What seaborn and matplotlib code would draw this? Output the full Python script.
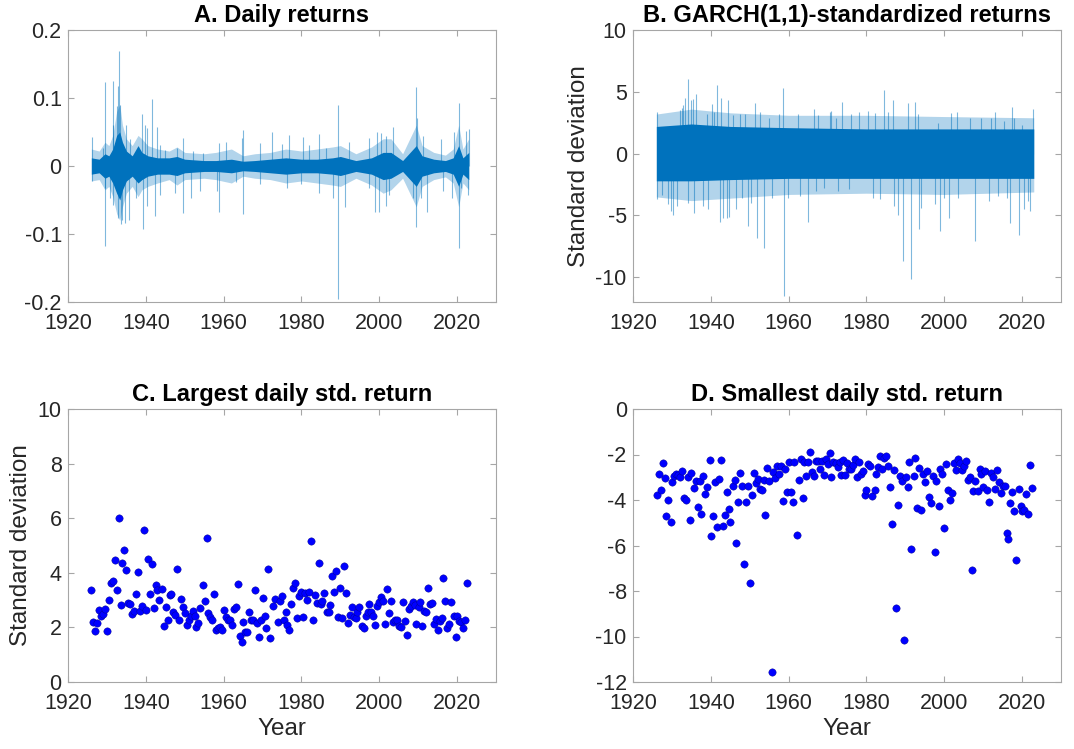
import numpy as np
import pandas as pd
import matplotlib
matplotlib.use("Agg")
import matplotlib.pyplot as plt
import seaborn as sns

# ==========================================
# DATA
# ==========================================

# panel A - daily returns: band edges at node years + isolated spikes
a_years = [1926.0, 1928.0, 1929.5, 1930.5, 1931.5, 1932.5, 1933.3, 1934.0, 1935.0,
           1936.5, 1938.0, 1939.0, 1940.5, 1943.0, 1946.0, 1948.0, 1950.0, 1955.0,
           1958.0, 1962.0, 1965.0, 1968.0, 1972.0, 1976.0, 1980.0, 1984.0, 1988.0,
           1990.0, 1994.0, 1998.0, 2001.0, 2003.0, 2006.0, 2009.5, 2011.0, 2014.0,
           2017.0, 2019.0, 2020.4, 2021.5, 2023.0]
a_inner_up = [0.012, 0.010, 0.018, 0.015, 0.025, 0.045, 0.050, 0.035, 0.022,
              0.015, 0.030, 0.020, 0.015, 0.012, 0.012, 0.014, 0.010, 0.008,
              0.008, 0.010, 0.007, 0.008, 0.010, 0.012, 0.010, 0.010, 0.012,
              0.014, 0.008, 0.012, 0.020, 0.020, 0.008, 0.030, 0.015, 0.010,
              0.008, 0.012, 0.030, 0.012, 0.020]
a_inner_lo = [-0.012, -0.010, -0.018, -0.015, -0.025, -0.040, -0.050, -0.035, -0.022,
              -0.015, -0.025, -0.020, -0.015, -0.012, -0.012, -0.014, -0.010, -0.008,
              -0.008, -0.010, -0.007, -0.008, -0.010, -0.012, -0.010, -0.010, -0.012,
              -0.014, -0.008, -0.012, -0.020, -0.018, -0.008, -0.030, -0.015, -0.010,
              -0.008, -0.012, -0.030, -0.012, -0.020]
a_outer_up = [0.025, 0.022, 0.035, 0.030, 0.045, 0.080, 0.090, 0.060, 0.040,
              0.030, 0.045, 0.040, 0.030, 0.025, 0.022, 0.028, 0.020, 0.018,
              0.020, 0.025, 0.015, 0.018, 0.020, 0.025, 0.022, 0.025, 0.028,
              0.030, 0.018, 0.028, 0.040, 0.040, 0.018, 0.060, 0.030, 0.020,
              0.016, 0.025, 0.060, 0.025, 0.040]
a_outer_lo = [-0.022, -0.020, -0.035, -0.030, -0.045, -0.070, -0.080, -0.060, -0.040,
              -0.030, -0.045, -0.035, -0.030, -0.025, -0.020, -0.028, -0.020, -0.018,
              -0.020, -0.025, -0.015, -0.018, -0.020, -0.025, -0.022, -0.025, -0.028,
              -0.030, -0.018, -0.028, -0.040, -0.035, -0.018, -0.060, -0.030, -0.020,
              -0.016, -0.025, -0.060, -0.025, -0.035]
a_spike_year = [1926.1, 1926.1, 1929.4, 1929.4, 1931.5, 1932.9, 1933.2, 1933.5, 1934.0,
                1939.0, 1939.2, 1941.5, 1942.3, 1942.9, 1949.6, 1949.6, 1958.8, 1958.8,
                1965.1, 1965.1, 1972.5, 1976.7, 1980.5, 1984.4, 1989.3, 1989.3, 1999.3,
                1999.0, 2000.0, 2001.8, 2003.5, 2009.5, 2009.5, 2009.8, 2012.2, 2019.1,
                2020.4, 2020.4, 2023.0,
                1929.0, 1931.6, 1932.7, 1933.3, 1935.0, 1935.9, 1939.7, 1940.3, 1943.6,
                1944.9, 1947.9, 1952.2, 1954.7, 1960.7, 1964.6, 1969.3,
                1929.4, 1930.7, 1931.6, 1932.9, 1934.6, 1935.7, 1937.6, 1940.2, 1943.6,
                1947.4, 1951.7, 1953.9, 1958.2, 1963.3, 1969.3,
                1975.1, 1982.0, 1986.3, 1992.3, 1997.4, 2000.4, 2001.7, 2011.2, 2015.9,
                2022.3,
                1976.4, 1979.9, 1984.6, 1988.0, 1991.3, 1997.4, 2002.6, 2008.6, 2010.7,
                2016.3, 2018.7, 2021.0, 2022.8]
a_spike_val = [0.042, -0.022, 0.124, -0.117, 0.125, 0.118, 0.169, -0.085, -0.080,
               0.076, -0.092, 0.099, -0.073, 0.058, 0.041, -0.069, 0.034, -0.067,
               0.053, -0.071, 0.050, 0.046, 0.042, 0.047, 0.089, -0.195, 0.050,
               -0.068, -0.068, -0.059, 0.057, 0.116, -0.090, 0.070, -0.067, 0.050,
               0.093, -0.120, 0.055,
               0.026, 0.061, 0.088, 0.090, 0.061, 0.039, 0.061, 0.056, 0.031,
               0.024, 0.026, 0.022, 0.019, 0.036, 0.041, 0.034,
               -0.032, -0.047, -0.057, -0.076, -0.084, -0.079, -0.047, -0.059, -0.042,
               -0.040, -0.047, -0.037, -0.037, -0.023, -0.027,
               0.032, 0.031, 0.026, 0.035, 0.041, 0.049, 0.044, 0.044, 0.039,
               0.051,
               -0.032, -0.027, -0.040, -0.047, -0.061, -0.032, -0.042, -0.047, -0.047,
               -0.037, -0.047, -0.032, -0.042]

# panel B - GARCH standardized returns
b_years = [1926.0, 1935.0, 1945.0, 1960.0, 1980.0, 2000.0, 2023.0]
b_inner_up = [2.2, 2.4, 2.2, 2.1, 2.0, 2.0, 2.0]
b_inner_lo = [-2.2, -2.2, -2.1, -2.0, -2.0, -2.0, -2.0]
b_outer_up = [3.2, 3.6, 3.3, 3.1, 3.1, 3.0, 2.9]
b_outer_lo = [-3.5, -3.8, -3.6, -3.3, -3.2, -3.3, -3.1]
b_spike_year = [1926.2, 1926.2, 1929.7, 1930.4, 1932.5, 1934.2, 1935.3, 1936.2, 1935.6,
                1940.3, 1941.7, 1942.4, 1944.2, 1944.3, 1949.5, 1951.4, 1951.8, 1953.6,
                1958.5, 1958.8, 1965.0, 1966.6, 1970.7, 1973.8, 1980.5, 1984.4, 1986.7,
                1989.3, 1991.4, 1988.2, 1992.5, 1993.4, 1999.0, 2001.1, 2003.3, 2008.0,
                2013.1, 2017.0, 2017.3, 2019.1, 2022.0, 2022.8,
                1932.1, 1932.9, 1933.3, 1935.0, 1939.1, 1940.9, 1942.7, 1945.7, 1947.4,
                1948.9, 1952.6, 1954.9, 1957.4, 1962.4, 1967.5, 1970.9, 1972.2,
                1927.4, 1928.9, 1931.2, 1934.2, 1938.0, 1939.3, 1943.2, 1944.7, 1946.6,
                1947.9, 1950.4, 1955.6, 1959.8, 1962.8, 1967.1, 1969.2, 1972.6, 1975.6,
                1976.1, 1978.2, 1982.1, 1985.5, 1990.6, 1993.3, 1998.3, 2001.7, 2006.7,
                2009.4, 2012.0, 2015.4, 2017.9, 2020.1,
                1981.6, 1983.6, 1987.2, 1994.0, 1997.6, 2000.0, 2003.4, 2011.5, 2013.7,
                2016.0, 2020.5, 2021.4]
b_spike_val = [3.35, -3.7, -4.6, -5.0, 3.7, 6.0, 4.4, 4.8, -4.8,
               4.0, 5.55, -5.5, -5.2, 4.3, -5.85, 4.1, -6.8, -7.6,
               5.3, -11.55, -5.5, 3.6, 3.35, 4.15, 3.45, 5.15, 4.35,
               -8.7, -10.1, -5.0, 4.2, -6.1, -6.25, -5.2, 3.35, -7.05,
               3.4, -5.65, 3.8, -6.55, -4.6, 3.6,
               3.5, 3.9, 4.5, 4.3, 3.2, 3.35, 4.5, 3.1, 3.2,
               3.2, 3.35, 2.9, 3.2, 3.2, 3.1, 3.45, 2.9,
               -3.35, -4.1, -4.2, -4.0, -4.25, -4.5, -5.2, -5.1, -4.5,
               -3.6, -4.0, -3.6, -3.6, -3.45, -3.0, -2.8, -3.0, -2.9,
               3.2, 3.4, 3.3, 3.35, 4.1, 3.2, 2.5, 3.3, 2.9,
               2.9, 2.9, 2.6, 2.9, 2.35,
               -3.55, -3.7, -4.25, -4.4, -4.1, -3.6, -3.55, -3.85, -3.45,
               -3.55, -4.5, -3.85]

# panel C - largest daily standardized return per half-year
c_year = [1926.0, 1926.4, 1927.0, 1927.5, 1928.0, 1928.6, 1929.0, 1929.5, 1930.0, 1930.5,
          1931.0, 1931.5, 1932.1, 1932.5, 1933.0, 1933.5, 1934.0, 1934.5, 1935.0, 1935.5,
          1936.0, 1936.5, 1937.0, 1937.5, 1938.0, 1938.5, 1939.0, 1939.6, 1940.1, 1940.5,
          1941.0, 1941.5, 1942.0, 1942.5, 1943.0, 1943.5, 1944.1, 1944.6, 1945.1, 1945.6,
          1946.1, 1946.6, 1947.1, 1947.6, 1948.0, 1948.5, 1949.1, 1949.6, 1950.1, 1950.6,
          1951.0, 1951.5, 1952.0, 1952.6, 1953.0, 1953.5, 1954.0, 1954.6, 1955.1, 1955.6,
          1956.1, 1956.5, 1957.0, 1957.5, 1958.0, 1958.5, 1959.0, 1959.5, 1960.0, 1960.6,
          1961.1, 1961.6, 1962.1, 1962.6, 1963.1, 1963.6, 1964.2, 1964.6, 1965.0, 1965.5,
          1966.0, 1966.6, 1967.1, 1967.6, 1968.1, 1968.6, 1969.1, 1969.6, 1970.1, 1970.6,
          1971.0, 1971.5, 1972.0, 1972.6, 1973.2, 1973.9, 1974.4, 1975.0, 1975.5, 1975.9,
          1976.4, 1976.9, 1977.4, 1977.9, 1978.4, 1978.9, 1979.4, 1979.9, 1980.5, 1980.9,
          1981.4, 1981.9, 1982.4, 1982.9, 1983.4, 1983.9, 1984.4, 1984.9, 1985.4, 1985.9,
          1986.5, 1987.0, 1987.4, 1987.9, 1988.4, 1988.9, 1989.5, 1990.0, 1990.5, 1991.0,
          1991.5, 1992.0, 1992.5, 1993.0, 1993.4, 1993.9, 1994.4, 1994.9, 1995.5, 1996.0,
          1996.5, 1997.0, 1997.4, 1997.9, 1998.5, 1999.0, 1999.5, 2000.0, 2000.5, 2001.0,
          2001.6, 2002.0, 2002.5, 2003.0, 2003.5, 2004.0, 2004.6, 2005.1, 2005.6, 2006.0,
          2006.5, 2007.0, 2007.6, 2008.1, 2008.6, 2009.1, 2009.5, 2010.1, 2010.5, 2011.0,
          2011.5, 2012.0, 2012.5, 2013.1, 2013.6, 2014.1, 2014.5, 2015.0, 2015.5, 2016.1,
          2016.5, 2017.0, 2017.5, 2018.0, 2018.5, 2019.1, 2019.6, 2020.1, 2020.6, 2021.1,
          2021.5, 2022.1, 2022.6]
c_val = [3.36, 2.20, 1.86, 2.16, 2.65, 2.43, 2.49, 2.69, 1.87, 3.02,
         3.63, 3.70, 4.46, 3.36, 6.01, 2.82, 4.37, 4.82, 4.09, 2.89,
         2.86, 2.49, 2.61, 3.22, 4.03, 2.61, 2.77, 5.57, 2.65, 4.51,
         3.24, 4.31, 2.70, 3.57, 3.36, 3.02, 3.41, 2.06, 2.75, 2.28,
         3.17, 3.21, 2.55, 2.47, 4.13, 2.28, 3.05, 2.74, 2.53, 2.08,
         2.28, 2.41, 2.60, 2.43, 2.03, 2.16, 2.72, 3.55, 2.98, 5.26,
         2.53, 2.37, 2.26, 3.21, 1.92, 1.99, 2.00, 1.89, 2.64, 2.38,
         2.28, 2.28, 2.10, 2.69, 2.75, 3.59, 1.67, 1.45, 2.21, 1.84,
         1.84, 2.56, 2.26, 2.26, 3.38, 2.16, 1.64, 2.28, 3.09, 2.43,
         1.99, 4.15, 1.60, 2.80, 3.04, 2.19, 2.98, 3.14, 2.26, 2.55,
         2.10, 1.89, 2.84, 3.43, 3.61, 2.34, 3.14, 3.28, 2.38, 3.26,
         3.00, 3.30, 5.16, 2.27, 3.19, 2.88, 4.36, 2.84, 2.98, 3.27,
         2.55, 2.58, 2.81, 3.90, 3.30, 4.07, 2.39, 3.44, 2.33, 4.24,
         3.26, 2.15, 2.47, 2.74, 2.39, 2.34, 2.55, 2.76, 2.06, 1.97,
         2.43, 2.55, 2.87, 2.58, 2.43, 2.09, 2.80, 2.92, 3.11, 2.98,
         2.14, 3.41, 2.52, 2.97, 2.20, 2.28, 2.28, 2.06, 2.01, 2.93,
         2.23, 1.72, 2.67, 2.80, 2.92, 2.81, 2.14, 2.75, 2.94, 2.06,
         2.60, 2.55, 3.44, 2.84, 2.88, 2.11, 2.31, 1.89, 2.22, 2.33,
         3.82, 2.97, 1.98, 2.14, 2.93, 2.41, 1.64, 2.41, 2.23, 2.20,
         1.97, 2.27, 3.61]

# panel D - smallest daily standardized return per half-year
d_year = [1926.1, 1926.7, 1927.2, 1927.6, 1928.1, 1928.6, 1929.1, 1929.7, 1930.1, 1930.6,
          1931.1, 1931.6, 1932.1, 1932.6, 1933.1, 1933.6, 1934.1, 1934.6, 1935.0, 1935.6,
          1936.1, 1936.6, 1937.1, 1937.6, 1938.1, 1938.6, 1939.1, 1939.7, 1940.1, 1940.6,
          1941.1, 1941.6, 1942.1, 1942.6, 1943.1, 1943.6, 1944.1, 1944.6, 1945.0, 1945.6,
          1946.1, 1946.6, 1947.1, 1947.6, 1948.1, 1948.5, 1949.1, 1949.6, 1950.1, 1950.6,
          1951.1, 1951.6, 1952.1, 1952.6, 1953.1, 1953.6, 1954.0, 1954.5, 1955.0, 1955.6,
          1956.1, 1956.6, 1957.0, 1957.5, 1958.0, 1958.5, 1959.1, 1959.5, 1960.0, 1960.5,
          1961.0, 1961.5, 1962.1, 1962.6, 1963.1, 1963.6, 1964.0, 1964.5, 1965.0, 1965.6,
          1966.1, 1966.6, 1967.1, 1967.6, 1968.1, 1968.5, 1969.1, 1969.6, 1970.1, 1970.6,
          1971.0, 1971.5, 1972.1, 1972.6, 1973.1, 1973.4, 1974.1, 1974.4, 1975.0, 1975.6,
          1976.1, 1976.6, 1977.0, 1977.5, 1978.0, 1978.6, 1979.1, 1979.5, 1980.0, 1980.5,
          1981.0, 1981.5, 1982.1, 1982.5, 1983.0, 1983.5, 1984.0, 1984.5, 1985.1, 1985.6,
          1986.1, 1986.5, 1987.0, 1987.5, 1988.0, 1988.6, 1989.1, 1989.6, 1990.1, 1990.6,
          1991.0, 1991.5, 1992.1, 1992.6, 1993.1, 1993.6, 1994.1, 1994.5, 1995.0, 1995.6,
          1996.1, 1996.6, 1997.1, 1997.5, 1998.0, 1998.6, 1999.0, 1999.5, 2000.0, 2000.5,
          2001.0, 2001.5, 2002.1, 2002.6, 2003.1, 2003.5, 2004.0, 2004.5, 2005.1, 2005.6,
          2006.1, 2006.6, 2007.1, 2007.5, 2008.0, 2008.6, 2009.1, 2009.5, 2010.0, 2010.4,
          2010.9, 2011.5, 2012.0, 2012.5, 2013.0, 2013.5, 2014.0, 2014.5, 2015.1, 2015.6,
          2016.0, 2016.5, 2017.0, 2017.5, 2017.9, 2018.5, 2019.1, 2019.6, 2020.1, 2020.5,
          2021.0, 2021.5, 2022.0, 2022.5]
d_val = [-3.78, -2.84, -3.56, -2.37, -3.03, -4.69, -3.99, -4.98, -3.21, -2.96,
         -2.84, -2.89, -2.99, -2.71, -3.91, -4.01, -2.99, -4.86, -2.81, -3.46,
         -3.15, -4.31, -3.18, -4.62, -2.93, -3.74, -3.43, -2.26, -5.57, -4.72,
         -3.21, -5.19, -3.06, -2.26, -5.16, -4.66, -3.63, -4.40, -4.98, -3.40,
         -3.11, -5.90, -4.09, -2.81, -3.37, -6.83, -4.09, -3.40, -7.63, -3.77,
         -2.81, -3.25, -3.08, -3.52, -3.58, -3.14, -4.67, -2.61, -3.16, -11.58,
         -2.77, -3.05, -2.52, -2.84, -2.52, -4.06, -2.62, -3.63, -2.31, -3.63,
         -4.09, -2.33, -5.55, -3.14, -2.20, -3.93, -2.31, -2.96, -2.34, -1.89,
         -2.75, -2.93, -2.27, -2.27, -2.65, -2.27, -2.90, -2.20, -2.40, -1.93,
         -2.97, -2.33, -2.37, -2.56, -2.34, -2.92, -2.23, -2.89, -2.37, -2.64,
         -2.64, -2.46, -2.20, -2.99, -2.34, -2.84, -2.74, -3.78, -3.55, -2.40,
         -2.52, -3.81, -3.58, -2.84, -2.55, -2.08, -2.64, -2.17, -2.08, -2.49,
         -3.44, -5.07, -2.70, -8.76, -4.22, -2.93, -3.16, -10.14, -2.99, -3.43,
         -2.34, -6.17, -2.93, -2.17, -4.37, -2.59, -4.42, -2.84, -3.19, -2.74,
         -3.88, -4.13, -2.93, -6.30, -3.15, -4.25, -2.62, -2.84, -5.24, -2.42,
         -3.55, -3.99, -3.69, -2.37, -2.67, -2.20, -2.37, -2.67, -2.49, -2.30,
         -3.11, -2.99, -7.09, -3.62, -3.16, -3.60, -2.64, -2.84, -3.43, -2.74,
         -3.55, -4.10, -2.81, -2.99, -3.50, -2.67, -3.21, -3.69, -3.40, -3.40,
         -5.45, -5.70, -4.15, -3.63, -4.50, -6.62, -3.52, -4.25, -4.50, -4.45,
         -3.72, -4.63, -2.48, -3.49]

# ==========================================
# STYLE
# ==========================================

sns.set_style("white")
plt.rcParams["font.family"] = ["Liberation Sans", "DejaVu Sans"]
plt.rcParams["axes.unicode_minus"] = False

line_blue = "#0072BD"
spine_gray = "#a6a6a6"
text_gray = "#262626"

fig = plt.figure(figsize=(10.74, 7.49), dpi=100)

W, H = 1074, 749
def box(l, t, r, b):
    return [l / W, 1 - b / H, (r - l) / W, (b - t) / H]

ax_a = fig.add_axes(box(68, 30, 496, 302))
ax_b = fig.add_axes(box(633, 30, 1061, 302))
ax_c = fig.add_axes(box(68, 409, 496, 682))
ax_d = fig.add_axes(box(633, 409, 1061, 682))


def matlab_axes(ax, title, yticks, yticklabels, ylim):
    ax.set_xlim(1920, 2030)
    ax.set_ylim(*ylim)
    ax.set_xticks([1920, 1940, 1960, 1980, 2000, 2020])
    ax.set_xticklabels(["1920", "1940", "1960", "1980", "2000", "2020"])
    ax.set_yticks(yticks)
    ax.set_yticklabels(yticklabels)
    for s in ax.spines.values():
        s.set_visible(True)
        s.set_color(spine_gray)
        s.set_linewidth(0.8)
    ax.tick_params(axis="both", direction="in", length=4, width=0.8,
                   color=spine_gray, labelsize=15.5, labelcolor=text_gray,
                   top=True, right=True, bottom=True, left=True)
    ax.tick_params(axis="x", pad=8)
    ax.tick_params(axis="y", pad=4.5)
    ax.set_title(title, fontsize=17, fontweight="bold", color="black", pad=6)


# ==========================================
# PANEL A
# ==========================================

ax_a.fill_between(a_years, a_outer_lo, a_outer_up, color=line_blue,
                  alpha=0.3, linewidth=0)
ax_a.fill_between(a_years, a_inner_lo, a_inner_up, color=line_blue,
                  alpha=1.0, linewidth=0)
ax_a.vlines(a_spike_year, 0, a_spike_val, color=line_blue, alpha=0.5, linewidth=0.8)
matlab_axes(ax_a, "A. Daily returns",
            [-0.2, -0.1, 0, 0.1, 0.2], ["-0.2", "-0.1", "0", "0.1", "0.2"], (-0.2, 0.2))

# ==========================================
# PANEL B
# ==========================================

ax_b.fill_between(b_years, b_outer_lo, b_outer_up, color=line_blue,
                  alpha=0.3, linewidth=0)
ax_b.fill_between(b_years, b_inner_lo, b_inner_up, color=line_blue,
                  alpha=1.0, linewidth=0)
ax_b.vlines(b_spike_year, 0, b_spike_val, color=line_blue, alpha=0.5, linewidth=0.8)
matlab_axes(ax_b, "B. GARCH(1,1)-standardized returns",
            [-10, -5, 0, 5, 10], ["-10", "-5", "0", "5", "10"], (-12, 10))
ax_b.set_ylabel("Standard deviation", fontsize=17.5, color=text_gray, labelpad=4)

# ==========================================
# PANEL C
# ==========================================

df_c = pd.DataFrame({"Year": c_year, "Value": c_val})
sns.scatterplot(data=df_c, x="Year", y="Value", ax=ax_c, color="#0000FF",
                s=28, edgecolor="#00008b", linewidth=0.3)
matlab_axes(ax_c, "C. Largest daily std. return",
            [0, 2, 4, 6, 8, 10], ["0", "2", "4", "6", "8", "10"], (0, 10))
ax_c.set_ylabel("Standard deviation", fontsize=17.5, color=text_gray, labelpad=4)
ax_c.set_xlabel("Year", fontsize=17.5, color=text_gray, labelpad=3)

# ==========================================
# PANEL D
# ==========================================

df_d = pd.DataFrame({"Year": d_year, "Value": d_val})
sns.scatterplot(data=df_d, x="Year", y="Value", ax=ax_d, color="#0000FF",
                s=28, edgecolor="#00008b", linewidth=0.3)
matlab_axes(ax_d, "D. Smallest daily std. return",
            [-12, -10, -8, -6, -4, -2, 0],
            ["-12", "-10", "-8", "-6", "-4", "-2", "0"], (-12, 0))
ax_d.set_ylabel("")
ax_d.set_xlabel("Year", fontsize=17.5, color=text_gray, labelpad=3)

fig.savefig("out.png", dpi=100)
